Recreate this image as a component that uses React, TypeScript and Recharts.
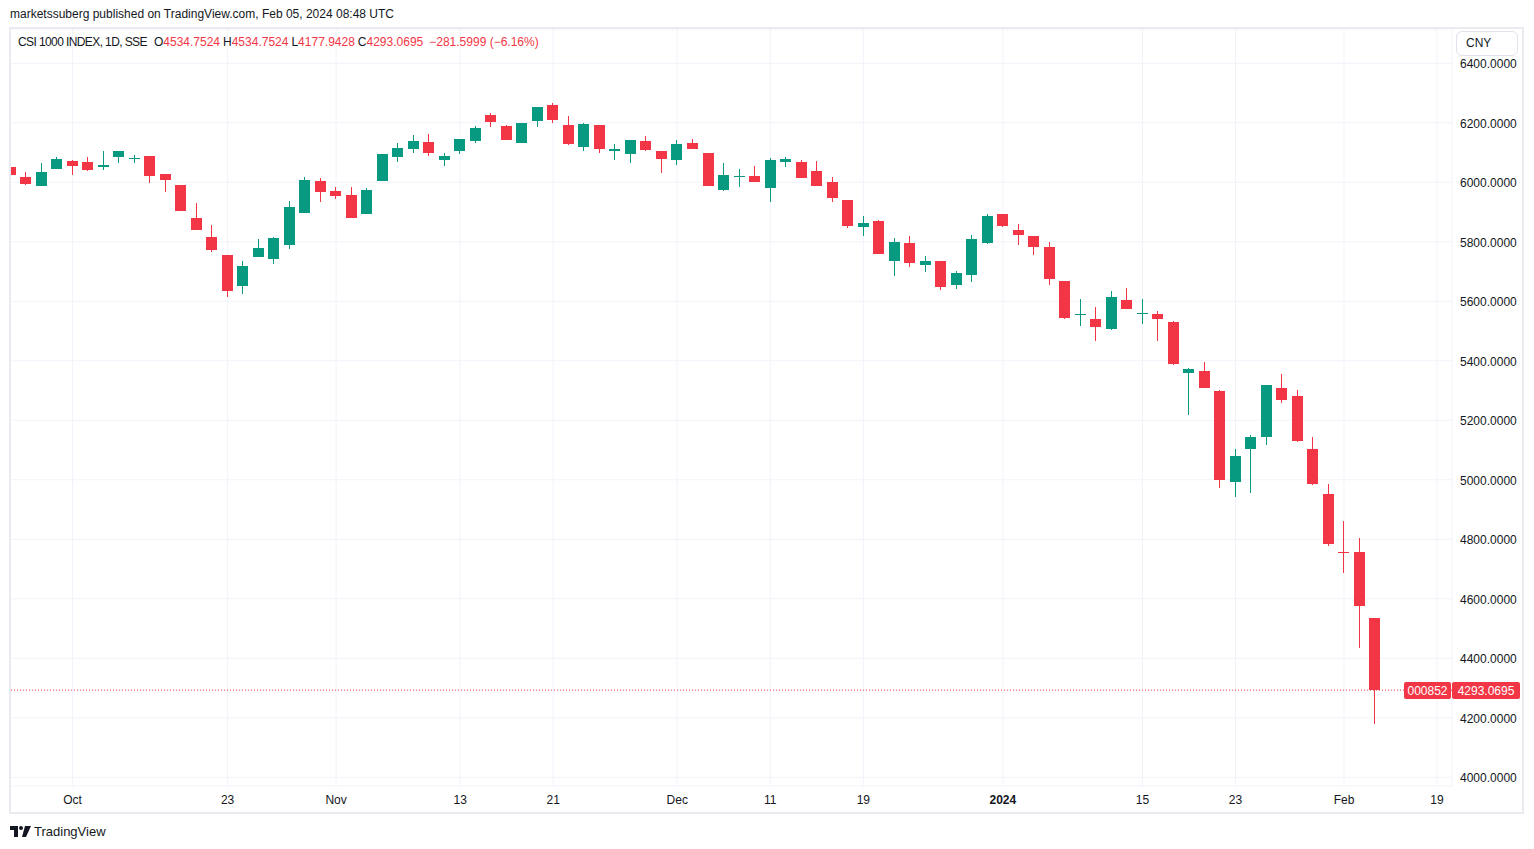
import React from 'react';
import { ComposedChart, Bar, XAxis, YAxis, CartesianGrid, ReferenceLine } from 'recharts';

const DATES = [
  '2023-09-25', '2023-09-26', '2023-09-27', '2023-09-28',
  '2023-10-09', '2023-10-10', '2023-10-11', '2023-10-12', '2023-10-13',
  '2023-10-16', '2023-10-17', '2023-10-18', '2023-10-19', '2023-10-20',
  '2023-10-23', '2023-10-24', '2023-10-25', '2023-10-26', '2023-10-27',
  '2023-10-30', '2023-10-31', '2023-11-01', '2023-11-02', '2023-11-03',
  '2023-11-06', '2023-11-07', '2023-11-08', '2023-11-09', '2023-11-10',
  '2023-11-13', '2023-11-14', '2023-11-15', '2023-11-16', '2023-11-17',
  '2023-11-20', '2023-11-21', '2023-11-22', '2023-11-23', '2023-11-24',
  '2023-11-27', '2023-11-28', '2023-11-29', '2023-11-30', '2023-12-01',
  '2023-12-04', '2023-12-05', '2023-12-06', '2023-12-07', '2023-12-08',
  '2023-12-11', '2023-12-12', '2023-12-13', '2023-12-14', '2023-12-15',
  '2023-12-18', '2023-12-19', '2023-12-20', '2023-12-21', '2023-12-22',
  '2023-12-25', '2023-12-26', '2023-12-27', '2023-12-28', '2023-12-29',
  '2024-01-02', '2024-01-03', '2024-01-04', '2024-01-05',
  '2024-01-08', '2024-01-09', '2024-01-10', '2024-01-11', '2024-01-12',
  '2024-01-15', '2024-01-16', '2024-01-17', '2024-01-18', '2024-01-19',
  '2024-01-22', '2024-01-23', '2024-01-24', '2024-01-25', '2024-01-26',
  '2024-01-29', '2024-01-30', '2024-01-31', '2024-02-01', '2024-02-02',
  '2024-02-05',
];

const OPEN = [
  6051, 6018, 5989, 6046, 6072, 6068, 6052, 6086, 6078, 6088,
  6028, 5991, 5880, 5816, 5756, 5653, 5750, 5742, 5789, 5897,
  6004, 5971, 5957, 5893, 6004, 6085, 6112, 6135, 6075, 6105,
  6139, 6226, 6189, 6132, 6206, 6260, 6192, 6118, 6192, 6105,
  6095, 6139, 6105, 6075, 6132, 6098, 5974, 6018, 6021, 5981,
  6068, 6068, 6038, 6001, 5940, 5850, 5870, 5735, 5796, 5722,
  5735, 5656, 5688, 5795, 5892, 5841, 5818, 5781, 5667, 5553,
  5542, 5506, 5603, 5560, 5556, 5532, 5358, 5367, 5300, 4992,
  5103, 5143, 5307, 5283, 5102, 4951, 4756, 4756, 4534.7524,
];

const HIGH = [
  6058, 6035, 6065, 6085, 6075, 6085, 6105, 6106, 6092, 6089,
  6029, 5992, 5930, 5856, 5757, 5735, 5810, 5817, 5937, 6018,
  6014, 5984, 5984, 5981, 6096, 6132, 6159, 6162, 6098, 6147,
  6190, 6233, 6192, 6200, 6254, 6266, 6223, 6199, 6193, 6128,
  6143, 6156, 6106, 6142, 6146, 6099, 6065, 6045, 6055, 6082,
  6085, 6075, 6072, 6018, 5941, 5887, 5873, 5813, 5819, 5752,
  5736, 5703, 5824, 5892, 5893, 5861, 5819, 5798, 5668, 5609,
  5582, 5636, 5646, 5609, 5569, 5533, 5377, 5397, 5301, 5105,
  5152, 5318, 5354, 5303, 5145, 4987, 4860, 4806, 4534.7524,
];

const LOW = [
  6015, 5991, 5988, 6045, 6025, 6039, 6042, 6066, 6066, 5999,
  5968, 5904, 5840, 5767, 5615, 5626, 5749, 5726, 5776, 5896,
  5934, 5944, 5879, 5892, 6003, 6068, 6098, 6088, 6055, 6095,
  6132, 6186, 6141, 6131, 6186, 6199, 6127, 6105, 6098, 6075,
  6065, 6105, 6031, 6058, 6111, 5987, 5971, 5984, 6000, 5934,
  6051, 6013, 5987, 5934, 5846, 5820, 5758, 5685, 5715, 5698,
  5638, 5640, 5664, 5794, 5851, 5789, 5755, 5654, 5542, 5516,
  5466, 5505, 5573, 5523, 5466, 5387, 5217, 5307, 4971, 4941,
  4955, 5116, 5257, 5128, 4982, 4777, 4686, 4434, 4177.9428,
];

const CLOSE = [
  6025, 5993, 6035, 6078, 6056, 6042, 6059, 6105, 6083, 6022,
  6009, 5905, 5841, 5773, 5636, 5719, 5779, 5813, 5917, 6008,
  5967, 5954, 5880, 5974, 6095, 6115, 6139, 6098, 6088, 6146,
  6183, 6203, 6142, 6199, 6253, 6209, 6128, 6196, 6112, 6112,
  6142, 6108, 6078, 6128, 6112, 5988, 6025, 6021, 6001, 6075,
  6078, 6014, 5988, 5947, 5853, 5863, 5759, 5799, 5729, 5735,
  5648, 5696, 5808, 5888, 5852, 5822, 5782, 5674, 5543, 5556,
  5513, 5613, 5574, 5562, 5540, 5388, 5374, 5308, 4998, 5081,
  5145, 5317, 5267, 5129, 4985, 4784, 4753, 4575, 4293.0695,
];

// time axis: bar index -> label (TradingView skips non-trading days)
const TIME_TICKS = [4, 14, 21, 29, 35, 43, 49, 55, 64, 73, 79, 86, 92];
const TIME_LABELS = ['Oct', '23', 'Nov', '13', '21', 'Dec', '11', '19', '2024', '15', '23', 'Feb', '19'];
const PRICE_TICKS = [4000, 4200, 4400, 4600, 4800, 5000, 5200, 5400, 5600, 5800, 6000, 6200, 6400];
const LAST_PRICE = 4293.0695;

const GREEN = '#089981';
const RED = '#F23645';
const TEXT = '#131722';
const FONT = '"Liberation Sans", Arial, sans-serif';

const data = DATES.map((date, i) => ({
  i,
  date,
  open: OPEN[i],
  high: HIGH[i],
  low: LOW[i],
  close: CLOSE[i],
}));

const Candle = (props: any) => {
  const { x, y, width, height, payload } = props;
  if (x == null || y == null) return null;
  const top = Math.min(y, y + height);
  const h = Math.abs(height);
  const range = payload.high - payload.low;
  const k = range > 0 ? h / range : 0;
  const yOpen = top + (payload.high - payload.open) * k;
  const yClose = top + (payload.high - payload.close) * k;
  const color = payload.close >= payload.open ? GREEN : RED;
  const cx = x + width / 2;
  return (
    <g shapeRendering="crispEdges">
      <rect x={cx - 0.5} y={top} width={1} height={Math.max(h, 1)} fill={color} />
      <rect x={x} y={Math.min(yOpen, yClose)} width={width} height={Math.max(Math.abs(yOpen - yClose), 1)} fill={color} />
    </g>
  );
};

const TimeTick = (props: any) => {
  const { x, y, payload } = props;
  const label = TIME_LABELS[TIME_TICKS.indexOf(payload.value)];
  return (
    <text x={x} y={y + 18} textAnchor="middle" fontSize={12} fontFamily={FONT} fill={TEXT}
      fontWeight={label === '2024' ? 'bold' : 'normal'}>
      {label}
    </text>
  );
};

const PriceTick = (props: any) => {
  const { x, y, payload } = props;
  return (
    <text x={x} y={y + 5} textAnchor="start" fontSize={12} fontFamily={FONT} fill={TEXT}>
      {payload.value.toFixed(4)}
    </text>
  );
};

const LastPriceLabel = (props: any) => {
  const vb = props.viewBox || {};
  const right = vb.x + vb.width;
  const y = vb.y;
  return (
    <g fontFamily={FONT} fontSize={12}>
      <rect x={right - 48} y={y - 8} width={47} height={17} rx={2} fill={RED} />
      <text x={right - 24.5} y={y + 5} textAnchor="middle" fill="#fff">000852</text>
      <rect x={right} y={y - 8} width={68} height={17} rx={2} fill={RED} />
      <text x={right + 34} y={y + 5} textAnchor="middle" fill="#fff">{LAST_PRICE.toFixed(4)}</text>
    </g>
  );
};

const Legend = () => (
  <div style={{ position: 'absolute', left: 18, top: 35, fontSize: 12, fontFamily: FONT, color: TEXT, whiteSpace: 'nowrap' }}>
    <span style={{ letterSpacing: -0.6 }}>CSI 1000 INDEX, 1D, SSE</span>
    <span style={{ marginLeft: 7 }}>O</span><span style={{ color: RED }}>{OPEN[88].toFixed(4)}</span>
    <span style={{ marginLeft: 3 }}>H</span><span style={{ color: RED }}>{HIGH[88].toFixed(4)}</span>
    <span style={{ marginLeft: 3 }}>L</span><span style={{ color: RED }}>{LOW[88].toFixed(4)}</span>
    <span style={{ marginLeft: 3 }}>C</span><span style={{ color: RED }}>{CLOSE[88].toFixed(4)}</span>
    <span style={{ marginLeft: 6, color: RED }}>−281.5999 (−6.16%)</span>
  </div>
);

const App: React.FC = () => {
  return (
    <div style={{ position: 'absolute', left: 0, top: 0, width: 1534, height: 849, background: '#fff', overflow: 'hidden', fontFamily: FONT }}>
      <div style={{ position: 'absolute', left: 10, top: 7, fontSize: 12, color: TEXT }}>
        marketssuberg published on TradingView.com, Feb 05, 2024 08:48 UTC
      </div>

      <div style={{ position: 'absolute', left: 0, top: 0 }}>
        <ComposedChart width={1534} height={849} data={data} margin={{ top: 29, right: 11, bottom: 36, left: 10 }}>
          <CartesianGrid stroke="#f0f3fa" />
          <XAxis
            dataKey="i"
            type="number"
            domain={[-0.032, 92.965]}
            allowDataOverflow
            ticks={TIME_TICKS}
            interval={0}
            height={27}
            axisLine={false}
            tickLine={false}
            tickSize={0}
            tickMargin={0}
            tick={<TimeTick />}
          />
          <YAxis
            orientation="right"
            domain={[3970.8, 6515.3]}
            allowDataOverflow
            ticks={PRICE_TICKS}
            interval={0}
            width={71}
            axisLine={false}
            tickLine={false}
            tickSize={0}
            tickMargin={8}
            tick={<PriceTick />}
          />
          <ReferenceLine y={LAST_PRICE} stroke={RED} strokeDasharray="1 2" label={<LastPriceLabel />} />
          <Bar dataKey={(d: any) => [d.low, d.high]} shape={<Candle />} barSize={11} isAnimationActive={false} />
        </ComposedChart>
      </div>

      <Legend />

      <div style={{ position: 'absolute', left: 1456, top: 31, width: 62, height: 25, boxSizing: 'border-box', border: '1px solid #e0e3eb', borderRadius: 6, background: '#fff', fontSize: 12, color: TEXT, lineHeight: '23px', paddingLeft: 9 }}>
        CNY
      </div>

      <div style={{ position: 'absolute', left: 9, top: 27, width: 1515, height: 787, boxSizing: 'border-box', border: '2px solid #e9ebf0', pointerEvents: 'none' }} />

      <div style={{ position: 'absolute', left: 10, top: 824, display: 'flex', alignItems: 'center', fontSize: 13, color: TEXT }}>
        <svg width="21" height="12" style={{ marginRight: 3 }}>
          <path d="M0 0h8v11H4V4H0z" fill={TEXT} />
          <circle cx="11" cy="2" r="2" fill={TEXT} />
          <path d="M15 0h6l-5 11h-4z" fill={TEXT} />
        </svg>
        TradingView
      </div>
    </div>
  );
};

export default App;
